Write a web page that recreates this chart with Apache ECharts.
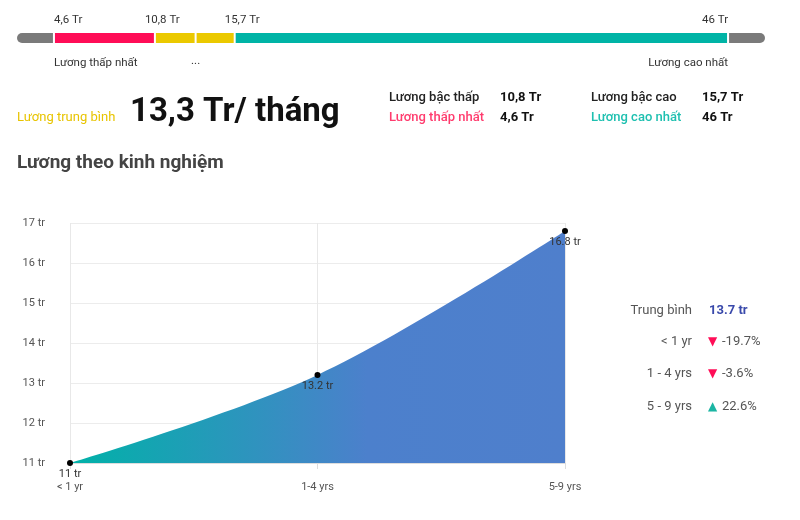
<!DOCTYPE html>
<html>
<head>
<meta charset="utf-8">
<script src="https://cdn.jsdelivr.net/npm/echarts@6/dist/echarts.min.js"></script>
<style>
  html, body { margin: 0; padding: 0; background: #fff; }
  #main { width: 800px; height: 520px; }
</style>
</head>
<body>
<div id="main"></div>
<script>
// salary range bar (Tr)
var rangeLevels = [4.6, 10.8, 13.3, 15.7, 46];
var rangeTicks = [4.6, 10.8, 15.7, 46];
var rangeTickLabels = ['4,6 Tr', '10,8 Tr', '15,7 Tr', '46 Tr'];
var avgSalary = 13.3;

// experience chart
var expCategories = ['< 1 yr', '1-4 yrs', '5-9 yrs'];
var expValues = [11, 13.2, 16.8];
var yTicks = [11, 12, 13, 14, 15, 16, 17];

// side panel
var sideAvg = '13.7 tr';
var sideRows = ['< 1 yr', '1 - 4 yrs', '5 - 9 yrs'];
var sideDiffs = [-19.7, -3.6, 22.6];

var FONT = 'Roboto, "Noto Sans", sans-serif';
var RED = '#ff0d57', YELLOW = '#ebc900', TEAL = '#00b4a6', GRAY = '#7a7a7a';

// track padding on both ends of the range bar
var barMin = 2.33, barMax = 48.27;

var pieces = [[barMin, rangeLevels[0], GRAY, 'l']];
var segColors = [RED, YELLOW, YELLOW, TEAL];
for (var i = 0; i < rangeLevels.length - 1; i++) {
  pieces.push([rangeLevels[i], rangeLevels[i + 1], segColors[i], '']);
}
pieces.push([rangeLevels[rangeLevels.length - 1], barMax, GRAY, 'r']);

var chart = echarts.init(document.getElementById('main'));

function renderPiece(params, api) {
  var item = pieces[params.dataIndex];
  var a = api.coord([item[0], 0]);
  var b = api.coord([item[1], 0]);
  var x0 = item[3] === 'l' ? a[0] : a[0] + 1;
  var x1 = item[3] === 'r' ? b[0] : b[0] - 1;
  var r = item[3] === 'l' ? [5, 0, 0, 5] : item[3] === 'r' ? [0, 5, 5, 0] : 0;
  return {
    type: 'rect',
    shape: { x: x0, y: a[1] - 5, width: x1 - x0, height: 10, r: r },
    style: { fill: item[2] }
  };
}

function renderTick(params, api) {
  var p = api.coord([api.value(0), 0]);
  var n = rangeTicks.length;
  var idx = params.dataIndex;
  var x = p[0], align = 'left';
  if (idx === n - 1) align = 'right';
  else if (idx > 0) x = p[0] - 10;
  return {
    type: 'text',
    style: {
      x: x, y: p[1] - 18, text: rangeTickLabels[idx],
      align: align, verticalAlign: 'middle',
      font: '11.5px ' + FONT, fill: '#333'
    }
  };
}

function renderUnder(params, api) {
  var lo = api.coord([rangeLevels[0], 0]);
  var mid = api.coord([avgSalary, 0]);
  var hi = api.coord([rangeLevels[rangeLevels.length - 1], 0]);
  var st = { font: '11.5px ' + FONT, fill: '#333', verticalAlign: 'middle' };
  return {
    type: 'group',
    children: [
      { type: 'text', style: Object.assign({ x: lo[0], y: lo[1] + 25, text: 'Lương thấp nhất', align: 'left' }, st) },
      { type: 'text', style: Object.assign({ x: mid[0], y: mid[1] + 23, text: '...', align: 'center' }, st) },
      { type: 'text', style: Object.assign({ x: hi[0], y: hi[1] + 25, text: 'Lương cao nhất', align: 'right' }, st) }
    ]
  };
}

var graphics = [
  { type: 'text', left: 17, top: 111, style: { text: 'Lương trung bình', font: '13px ' + FONT, fill: '#e8c400' } },
  { type: 'text', left: 130, top: 96, style: { text: '13,3 Tr/ tháng', font: 'bold 33px ' + FONT, fill: '#111' } },
  { type: 'text', left: 389, top: 91, style: { text: 'Lương bậc thấp', font: '500 13px ' + FONT, fill: '#222' } },
  { type: 'text', left: 500, top: 91, style: { text: '10,8 Tr', font: 'bold 13px ' + FONT, fill: '#111' } },
  { type: 'text', left: 389, top: 111, style: { text: 'Lương thấp nhất', font: '500 13px ' + FONT, fill: '#ff3c6e' } },
  { type: 'text', left: 500, top: 111, style: { text: '4,6 Tr', font: 'bold 13px ' + FONT, fill: '#111' } },
  { type: 'text', left: 591, top: 91, style: { text: 'Lương bậc cao', font: '500 13px ' + FONT, fill: '#222' } },
  { type: 'text', left: 702, top: 91, style: { text: '15,7 Tr', font: 'bold 13px ' + FONT, fill: '#111' } },
  { type: 'text', left: 591, top: 111, style: { text: 'Lương cao nhất', font: '500 13px ' + FONT, fill: '#1ec0b0' } },
  { type: 'text', left: 702, top: 111, style: { text: '46 Tr', font: 'bold 13px ' + FONT, fill: '#111' } },
  { type: 'text', left: 17, top: 154, style: { text: 'Lương theo kinh nghiệm', font: 'bold 19px ' + FONT, fill: '#444' } },
  { type: 'text', right: 108, top: 304, style: { text: 'Trung bình', font: '13px ' + FONT, fill: '#555' } },
  { type: 'text', left: 709, top: 304, style: { text: sideAvg, font: 'bold 13px ' + FONT, fill: '#3949ab' } }
];
var rowTops = [335, 367, 400];
sideRows.forEach(function (name, i) {
  var up = sideDiffs[i] >= 0;
  graphics.push({ type: 'text', right: 108, top: rowTops[i], style: { text: name, font: '13px ' + FONT, fill: '#555' } });
  graphics.push({ type: 'text', left: 708, top: rowTops[i] + 1, style: { text: up ? '▲' : '▼', font: '12px "DejaVu Sans"', fill: up ? '#1bb5a3' : RED } });
  graphics.push({ type: 'text', left: 722, top: rowTops[i], style: { text: sideDiffs[i].toFixed(1) + '%', font: '13px ' + FONT, fill: '#555' } });
});

chart.setOption({
  animation: false,
  textStyle: { fontFamily: FONT },
  grid: [
    { left: 17, right: 35, top: 33, height: 10 },
    { left: 70, right: 235, top: 223, bottom: 57 }
  ],
  xAxis: [
    { gridIndex: 0, type: 'value', min: barMin, max: barMax, show: false },
    {
      gridIndex: 1, type: 'category', data: expCategories, boundaryGap: false,
      axisLine: { lineStyle: { color: '#ddd' } },
      axisTick: { show: true, length: 6, lineStyle: { color: '#ddd' } },
      axisLabel: { color: '#555', fontSize: 11, margin: 19 },
      splitLine: { show: true, lineStyle: { color: '#e8e8e8' } }
    }
  ],
  yAxis: [
    { gridIndex: 0, type: 'category', data: ['bar'], show: false },
    {
      gridIndex: 1, type: 'value', min: yTicks[0], max: yTicks[yTicks.length - 1], interval: 1,
      axisLine: { show: false }, axisTick: { show: false },
      axisLabel: { color: '#555', fontSize: 11, margin: 25, formatter: '{value} tr' },
      splitLine: { lineStyle: { color: '#ececec' } }
    }
  ],
  series: [
    { type: 'custom', xAxisIndex: 0, yAxisIndex: 0, renderItem: renderPiece, data: pieces.map(function (p) { return [p[0], p[1]]; }), silent: true },
    { type: 'custom', xAxisIndex: 0, yAxisIndex: 0, renderItem: renderTick, data: rangeTicks.map(function (v) { return [v]; }), silent: true },
    { type: 'custom', xAxisIndex: 0, yAxisIndex: 0, renderItem: renderUnder, data: [[avgSalary]], silent: true },
    {
      type: 'line', xAxisIndex: 1, yAxisIndex: 1, data: expValues, smooth: 0.35,
      symbol: 'circle', symbolSize: 6,
      itemStyle: { color: '#000' },
      lineStyle: { width: 0 },
      areaStyle: {
        opacity: 1,
        color: new echarts.graphic.LinearGradient(0, 0, 1, 0, [
          { offset: 0, color: '#00b2a8' },
          { offset: 0.6, color: '#4c80cc' },
          { offset: 1, color: '#4f7fcc' }
        ])
      },
      label: { show: true, position: 'bottom', distance: 3, color: '#333', fontSize: 11, formatter: '{c} tr' },
      z: 3
    }
  ],
  graphic: graphics
});
</script>
</body>
</html>
